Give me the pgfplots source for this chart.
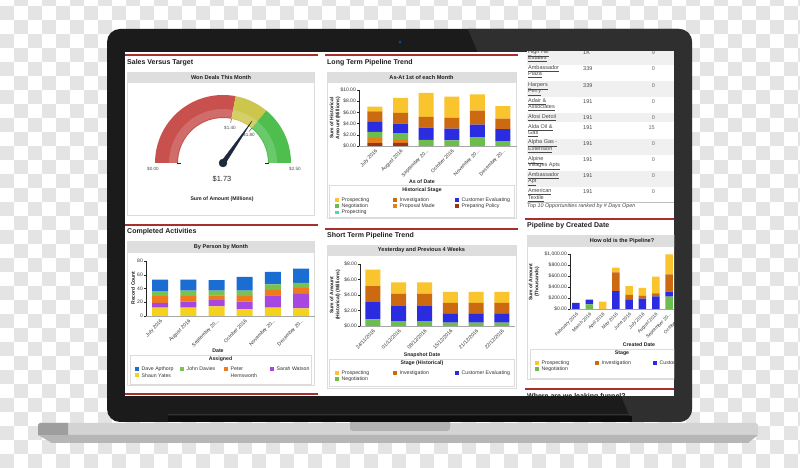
\documentclass[border=0pt]{standalone}
\usepackage{pgfplots}
\pgfplotsset{compat=1.18}
\usepackage{fontspec}
\setmainfont{Liberation Sans}
\newcommand\fs[1]{\fontsize{#1}{\fpeval{#1*1.2}}\selectfont}
\newcommand\dd{{.}{.}{.}}
\definecolor{pros}{HTML}{F9C42E}
\definecolor{inv}{HTML}{CC6A12}
\definecolor{cust}{HTML}{2B2BE0}
\definecolor{nego}{HTML}{6CBD4C}
\definecolor{prop}{HTML}{E5811C}
\definecolor{prep}{HTML}{9E3510}
\definecolor{pteal}{HTML}{45DDB0}
\definecolor{dave}{HTML}{1A6ED2}
\definecolor{john}{HTML}{7AC250}
\definecolor{peter}{HTML}{EE7A1C}
\definecolor{sarah}{HTML}{A648E0}
\definecolor{shaun}{HTML}{F5D21E}
\definecolor{hdr}{HTML}{DEDEDE}
\definecolor{redline}{HTML}{A8302C}
\definecolor{gred}{HTML}{C8504D}
\definecolor{gyel}{HTML}{CCC64C}
\definecolor{ggrn}{HTML}{4EBF4E}
\definecolor{needle}{HTML}{1E2A3C}
\definecolor{chk}{HTML}{E4E4E4}
\definecolor{bez}{HTML}{1B1B1B}
\definecolor{bezb}{HTML}{2F2F2F}
\definecolor{basel}{HTML}{D3D3D3}
\definecolor{based}{HTML}{B6B6B6}
\definecolor{rowg}{HTML}{F0F0F0}
\definecolor{frm}{HTML}{DCDCDC}
\pgfplotsset{
 mybars/.style={
  scale only axis, anchor=south west, ybar stacked, ymin=0,
  axis x line*=bottom, axis y line*=left, axis line style={-},
  x axis line style={draw=black!35}, y axis line style={draw=black!85},
  tick align=outside, major tick length=2pt,
  xtick style={draw=none}, ytick style={draw=black!85, line width=0.4pt},
  tick label style={font=\fs{5}, text=black!80, inner sep=1pt},
  x tick label style={rotate=45, anchor=north east, inner sep=0.8pt},
  every axis plot/.append style={draw=none},
  enlargelimits=false,
 }
}
\tikzset{
 ttl/.style={anchor=west, font=\bfseries\fs{7}, text=black!88, inner sep=0},
 hd/.style={font=\bfseries\fs{5.6}, inner sep=0, text=black!88},
 lgt/.style={anchor=west, font=\fs{5.2}, inner sep=0, text=black!80},
 bl/.style={font=\bfseries\fs{5.2}, inner sep=0, text=black!88},
 yl/.style={font=\bfseries\fs{5}, inner sep=0, rotate=90, align=center, text=black!88},
 tb/.style={anchor=west, font=\fs{5.5}, inner sep=0, text=black!72},
 tn/.style={font=\fs{5.5}, inner sep=0, text=black!60},
 gl/.style={font=\fs{4.6}, inner sep=0, text=black!70},
 frame/.style={draw=frm, line width=0.5pt, fill=white},
 rl/.style={draw=redline, line width=1.1pt},
}
\newcommand\lgi[4]{\fill[#1] (#2-1.8,#3-1.8) rectangle (#2+1.8,#3+1.8); \node[lgt] at (#2+4.5,#3) {#4};}
\begin{document}
\begin{tikzpicture}
\useasboundingbox (0,0) rectangle (800pt,468pt);
\clip (0,0) rectangle (800pt,468pt);
\fill[white] (0,0) rectangle (800pt,468pt);
\foreach \ci in {0,...,57}{%
  \foreach \cj in {0,...,33}{%
    \pgfmathtruncatemacro\cpar{mod(\ci+\cj,2)}%
    \ifnum\cpar=0 \fill[chk] (\ci*14pt,\cj*14pt) rectangle ++(14pt,14pt);\fi
  }}
\begin{scope}[x=1pt,y=-1pt,yshift=468pt]
 % laptop base
 \fill[basel] (38,425) -- (40,423) -- (756,423) -- (758,425) -- (758,433) -- (748,443) -- (52,443) -- (38,433) -- cycle;
 \fill[based] (38,435) -- (758,435) -- (748,443) -- (52,443) -- cycle;
 \fill[black!25!basel] (40,423) -- (68,423) -- (68,435) -- (38,435) -- (38,425) -- cycle;
 \fill[black!30, rounded corners=3pt] (350,415) rectangle (450,431);
 % bezel
 \fill[bez, rounded corners=13pt] (107,29) rectangle (692,422);
 \begin{scope}
  \clip[rounded corners=13pt] (107,29) rectangle (692,422);
  \fill[bezb] (468,29) -- (692,29) -- (692,422) -- (632,422) -- cycle;
 \end{scope}
 \fill[black!95] (168,416) rectangle (632,422);
 \fill[black!80] (168,414.5) rectangle (632,415.5);
 \fill[blue!50!cyan!60!black] (400,42) circle (1.6pt);
 % screen
 \fill[white] (125,52) rectangle (674,396);
 \begin{scope}
 \clip (125,52) rectangle (674,396);
 %% Panel 1
 \draw[rl] (125,55) -- (318,55);
 \node[ttl] at (127,62.5) {Sales Versus Target};
 \draw[frame] (127,72) rectangle (314,215);
 \fill[hdr] (127,72) rectangle (314,83);
 \node[hd] at (221,77.5) {Won Deals This Month};
 \node[gl] at (153,169) {\$0.00};
 \node[gl] at (295,169) {\$2.50};
 \node[gl] at (230,128) {\$1.40};
 \node[gl] at (249,135) {\$1.80};
 \node[font=\fs{7.4}, inner sep=0, text=black!85] at (222,179) {\$1.73};
 \node[bl] at (222,199) {Sum of Amount (Millions)};
 %% Panel 2
 \draw[rl] (325,55) -- (518,55);
 \node[ttl] at (327,62.5) {Long Term Pipeline Trend};
 \draw[frame] (327,72) rectangle (516,218);
 \fill[hdr] (327,72) rectangle (516,83);
 \node[hd] at (421.5,77.5) {As-At 1st of each Month};
 \node[yl] at (335,118) {Sum of Historical\\Amount (Millions)};
 \node[bl] at (422,182) {As of Date};
 \draw[frame] (329,185) rectangle (514,217);
 \node[bl] at (422,190) {Historical Stage};
 \lgi{pros}{337}{200}{Prospecting}
 \lgi{inv}{395}{200}{Investigation}
 \lgi{cust}{457}{200}{Customer Evaluating}
 \lgi{nego}{337}{206.3}{Negotiation}
 \lgi{prop}{395}{206.3}{Proposal Made}
 \lgi{prep}{457}{206.3}{Preparing Policy}
 \lgi{pteal}{337}{212.6}{Propecting}
 %% Panel 4
 \draw[rl] (125,225) -- (318,225);
 \node[ttl] at (127,232) {Completed Activities};
 \draw[frame] (127,241) rectangle (314,385);
 \fill[hdr] (127,241) rectangle (314,253);
 \node[hd] at (221,247) {By Person by Month};
 \node[yl] at (133,288) {Record Count};
 \node[bl] at (218,351) {Date};
 \draw[frame] (130,355) rectangle (311,384);
 \node[bl] at (220.5,359.5) {Assigned};
 \lgi{dave}{137}{369}{Dave Apthorp}
 \lgi{john}{182}{369}{John Davies}
 \lgi{peter}{226}{369}{Peter}
 \node[lgt] at (230.5,375.3) {Hemsworth};
 \lgi{sarah}{272}{369}{Sarah Watson}
 \lgi{shaun}{137}{375.3}{Shaun Yates}
 \draw[rl] (125,394) -- (318,394);
 %% Panel 5
 \draw[rl] (325,229) -- (518,229);
 \node[ttl] at (327,235.5) {Short Term Pipeline Trend};
 \draw[frame] (327,245) rectangle (516,388);
 \fill[hdr] (327,245) rectangle (516,256);
 \node[hd] at (421.5,250.5) {Yesterday and Previous 4 Weeks};
 \node[yl] at (335,295) {Sum of Amount\\(Historical) (Millions)};
 \node[bl] at (422,355) {Snapshot Date};
 \draw[frame] (329,359) rectangle (514,386);
 \node[bl] at (422,363.5) {Stage (Historical)};
 \lgi{pros}{337}{373}{Prospecting}
 \lgi{inv}{395}{373}{Investigation}
 \lgi{cust}{457}{373}{Customer Evaluating}
 \lgi{nego}{337}{379.3}{Negotiation}
 %% Right column table
 \fill[rowg] (527,40) rectangle (674,65);
 \fill[rowg] (527,81) rectangle (674,97);
 \fill[rowg] (527,113) rectangle (674,122);
 \fill[rowg] (527,139) rectangle (674,155);
 \fill[rowg] (527,171) rectangle (674,187);
 \node[tb] at (528,53) {\underline{High Hill}};
 \node[tb] at (528,59) {\underline{Estates}};
 \node[tb] at (583,53) {1K}; \node[tn, anchor=east] at (655,53) {9};
 \node[tb] at (528,69) {\underline{Ambassador}};
 \node[tb] at (528,75) {\underline{Plaza}};
 \node[tb] at (583,69) {339}; \node[tn, anchor=east] at (655,69) {0};
 \node[tb] at (528,86) {\underline{Harpers}};
 \node[tb] at (528,92) {\underline{Ferry}};
 \node[tb] at (583,86) {339}; \node[tn, anchor=east] at (655,86) {0};
 \node[tb] at (528,102) {\underline{Adair \&}};
 \node[tb] at (528,108) {\underline{Associates}};
 \node[tb] at (583,102) {191}; \node[tn, anchor=east] at (655,102) {0};
 \node[tb] at (528,118) {\underline{Afosi Detoil}};
 \node[tb] at (583,118) {191}; \node[tn, anchor=east] at (655,118) {0};
 \node[tb] at (528,128) {\underline{Alda Oil \&}};
 \node[tb] at (528,134) {\underline{Gas}};
 \node[tb] at (583,128) {191}; \node[tn, anchor=east] at (655,128) {15};
 \node[tb] at (528,143.5) {\underline{Alpha Gas -}};
 \node[tb] at (528,149.8) {\underline{Extension}};
 \node[tb] at (583,143.5) {191}; \node[tn, anchor=east] at (655,143.5) {0};
 \node[tb] at (528,160) {\underline{Alpine}};
 \node[tb] at (528,166.3) {\underline{Villages Apts}};
 \node[tb] at (583,160) {191}; \node[tn, anchor=east] at (655,160) {0};
 \node[tb] at (528,176) {\underline{Ambassador}};
 \node[tb] at (528,182.3) {\underline{Apt}};
 \node[tb] at (583,176) {191}; \node[tn, anchor=east] at (655,176) {0};
 \node[tb] at (528,192) {\underline{American}};
 \node[tb] at (528,198.3) {\underline{Textile}};
 \node[tb] at (583,192) {191}; \node[tn, anchor=east] at (655,192) {0};
 \draw[black!25, line width=0.4pt] (527,202.5) -- (674,202.5);
 \node[tb, font=\itshape\fs{5.4}] at (527,206.5) {Top 10 Opportunities ranked by \# Days Open};
 %% Panel 6
 \draw[rl] (525,219) -- (674,219);
 \node[ttl] at (527,225.5) {Pipeline by Created Date};
 \draw[frame] (527,235) rectangle (710,379);
 \fill[hdr] (527,235) rectangle (710,247);
 \node[hd] at (622,241) {How old is the Pipeline?};
 \node[yl] at (534,282) {Sum of Amount\\(Thousands)};
 \node[bl] at (639,345) {Created Date};
 \draw[frame] (530,349) rectangle (710,378);
 \node[bl] at (622,353.5) {Stage};
 \lgi{pros}{537}{363}{Prospecting}
 \lgi{inv}{597}{363}{Investigation}
 \lgi{cust}{655}{363}{Customer Evaluating}
 \lgi{nego}{537}{369.3}{Negotiation}
 \draw[rl] (525,389) -- (674,389);
 \node[ttl] at (527,396.5) {Where are we leaking funnel?};
 \end{scope}
\end{scope}

%% Gauge
\begin{axis}[at={(143pt,295pt)}, anchor=south west, x=1pt, y=1pt,
  xmin=-80, xmax=80, ymin=-10, ymax=75, hide axis, clip=false]
 \path (axis cs:0,0) coordinate (gc);
 \fill[gred] ([shift={(180:68pt)}]gc) arc[start angle=180,end angle=79.2,radius=68pt] -- ([shift={(79.2:45pt)}]gc) arc[start angle=79.2,end angle=180,radius=45pt] -- cycle;
 \fill[gyel] ([shift={(79.2:68pt)}]gc) arc[start angle=79.2,end angle=50.4,radius=68pt] -- ([shift={(50.4:45pt)}]gc) arc[start angle=50.4,end angle=79.2,radius=45pt] -- cycle;
 \fill[ggrn] ([shift={(50.4:68pt)}]gc) arc[start angle=50.4,end angle=0,radius=68pt] -- ([shift={(0:45pt)}]gc) arc[start angle=0,end angle=50.4,radius=45pt] -- cycle;
 \draw[white, opacity=0.16, line width=8pt] ([shift={(180:50pt)}]gc) arc[start angle=180,end angle=0,radius=50pt];
 \draw[black!85, line width=0.7pt] ([shift={(180:42pt)}]gc) -- ([shift={(180:46pt)}]gc);
 \draw[black!85, line width=0.7pt] ([shift={(0:42pt)}]gc) -- ([shift={(0:46pt)}]gc);
 \draw[black!70, line width=0.5pt] ([shift={(79.2:41pt)}]gc) -- ([shift={(79.2:45pt)}]gc);
 \draw[black!70, line width=0.5pt] ([shift={(50.4:41pt)}]gc) -- ([shift={(50.4:45pt)}]gc);
 \addplot[fill=needle, draw=needle, line width=0.2pt] coordinates {(-1.9,1.3) (29,42) (1.9,-1.3)} -- cycle;
 \addplot[only marks, mark=*, mark size=4, mark options={fill=needle, draw=needle}] coordinates {(0,0)};
\end{axis}

%% Long term pipeline
\begin{axis}[mybars, at={(359pt,322pt)}, width=158pt, height=56pt,
  xmin=-0.625, xmax=5.55, ymax=10, bar width=15pt,
  ytick={0,2,4,6,8,10}, yticklabels={\$0.00,\$2.00,\$4.00,\$6.00,\$8.00,\$10.00},
  xtick={0,1,2,3,4,5}, xticklabels={July 2016,August 2016,September 20\dd,October 2016,November 20\dd,December 20\dd}]
 \addplot[fill=prep] coordinates {(0,0.5)(1,0.55)(2,0)(3,0)(4,0)(5,0)};
 \addplot[fill=prop] coordinates {(0,0.95)(1,0.55)(2,0)(3,0)(4,0)(5,0)};
 \addplot[fill=nego] coordinates {(0,1.05)(1,1.2)(2,1.1)(3,1.0)(4,1.6)(5,0.85)};
 \addplot[fill=cust] coordinates {(0,1.8)(1,1.7)(2,2.2)(3,2.1)(4,2.2)(5,2.15)};
 \addplot[fill=inv] coordinates {(0,1.9)(1,1.9)(2,1.9)(3,1.9)(4,2.5)(5,1.9)};
 \addplot[fill=pros] coordinates {(0,0.85)(1,2.7)(2,4.3)(3,3.8)(4,2.9)(5,2.2)};
\end{axis}

%% Completed activities
\begin{axis}[mybars, at={(146pt,152pt)}, width=169.2pt, height=55pt,
  xmin=-0.5, xmax=5.5, ymax=80, bar width=16pt,
  ytick={0,20,40,60,80}, yticklabels={0,20,40,60,80},
  xtick={0,1,2,3,4,5}, xticklabels={July 2016,August 2016,September 20\dd,October 2016,November 20\dd,December 20\dd}]
 \addplot[fill=shaun] coordinates {(0,12)(1,12)(2,14)(3,10)(4,12)(5,11)};
 \addplot[fill=sarah] coordinates {(0,7)(1,9)(2,9)(3,11)(4,18)(5,21)};
 \addplot[fill=peter] coordinates {(0,10)(1,8)(2,7)(3,8)(4,8)(5,9)};
 \addplot[fill=john] coordinates {(0,7)(1,8)(2,7)(3,8)(4,8)(5,7)};
 \addplot[fill=dave] coordinates {(0,17)(1,16)(2,15)(3,20)(4,18)(5,21)};
\end{axis}

%% Short term pipeline
\begin{axis}[mybars, at={(360pt,142pt)}, width=154.8pt, height=62pt,
  xmin=-0.5, xmax=5.5, ymax=8, bar width=15pt,
  ytick={0,2,4,6,8}, yticklabels={\$0.00,\$2.00,\$4.00,\$6.00,\$8.00},
  xtick={0,1,2,3,4,5}, xticklabels={24/11/2016,01/12/2016,08/12/2016,15/12/2016,21/12/2016,22/12/2016}]
 \addplot[fill=nego] coordinates {(0,0.85)(1,0.64)(2,0.64)(3,0.43)(4,0.43)(5,0.43)};
 \addplot[fill=cust] coordinates {(0,2.23)(1,1.92)(2,1.92)(3,1.19)(4,1.19)(5,1.19)};
 \addplot[fill=inv] coordinates {(0,2.05)(1,1.59)(2,1.59)(3,1.37)(4,1.37)(5,1.37)};
 \addplot[fill=pros] coordinates {(0,2.13)(1,1.49)(2,1.49)(3,1.41)(4,1.41)(5,1.41)};
\end{axis}

%% Pipeline by created date
\begin{scope}
\clip (125pt,72pt) rectangle (674pt,416pt);
\begin{axis}[mybars, at={(570pt,159pt)}, width=132.3pt, height=55pt,
  xmin=-0.45, xmax=9.5, ymax=1000, bar width=7.5pt,
  x tick label style={font=\fs{4.7}},
  ytick={0,200,400,600,800,1000}, yticklabels={{\$0.00},{\$200.00},{\$400.00},{\$600.00},{\$800.00},{\$1,000.00}},
  xtick={0,1,2,3,4,5,6,7,8}, xticklabels={February 2016,March 2016,April 2016,May 2016,June 2016,July 2016,August 2016,September 20\dd,October 20\dd}]
 \addplot[fill=nego] coordinates {(0,0)(1,85)(2,0)(3,0)(4,0)(5,0)(6,0)(7,224)};
 \addplot[fill=cust] coordinates {(0,110)(1,85)(2,0)(3,327)(4,176)(5,188)(6,230)(7,91)};
 \addplot[fill=inv] coordinates {(0,0)(1,0)(2,0)(3,340)(4,79)(5,54)(6,55)(7,315)};
 \addplot[fill=pros] coordinates {(0,0)(1,0)(2,133)(3,83)(4,163)(5,140)(6,303)(7,364)};
\end{axis}
\end{scope}
\end{tikzpicture}
\end{document}
